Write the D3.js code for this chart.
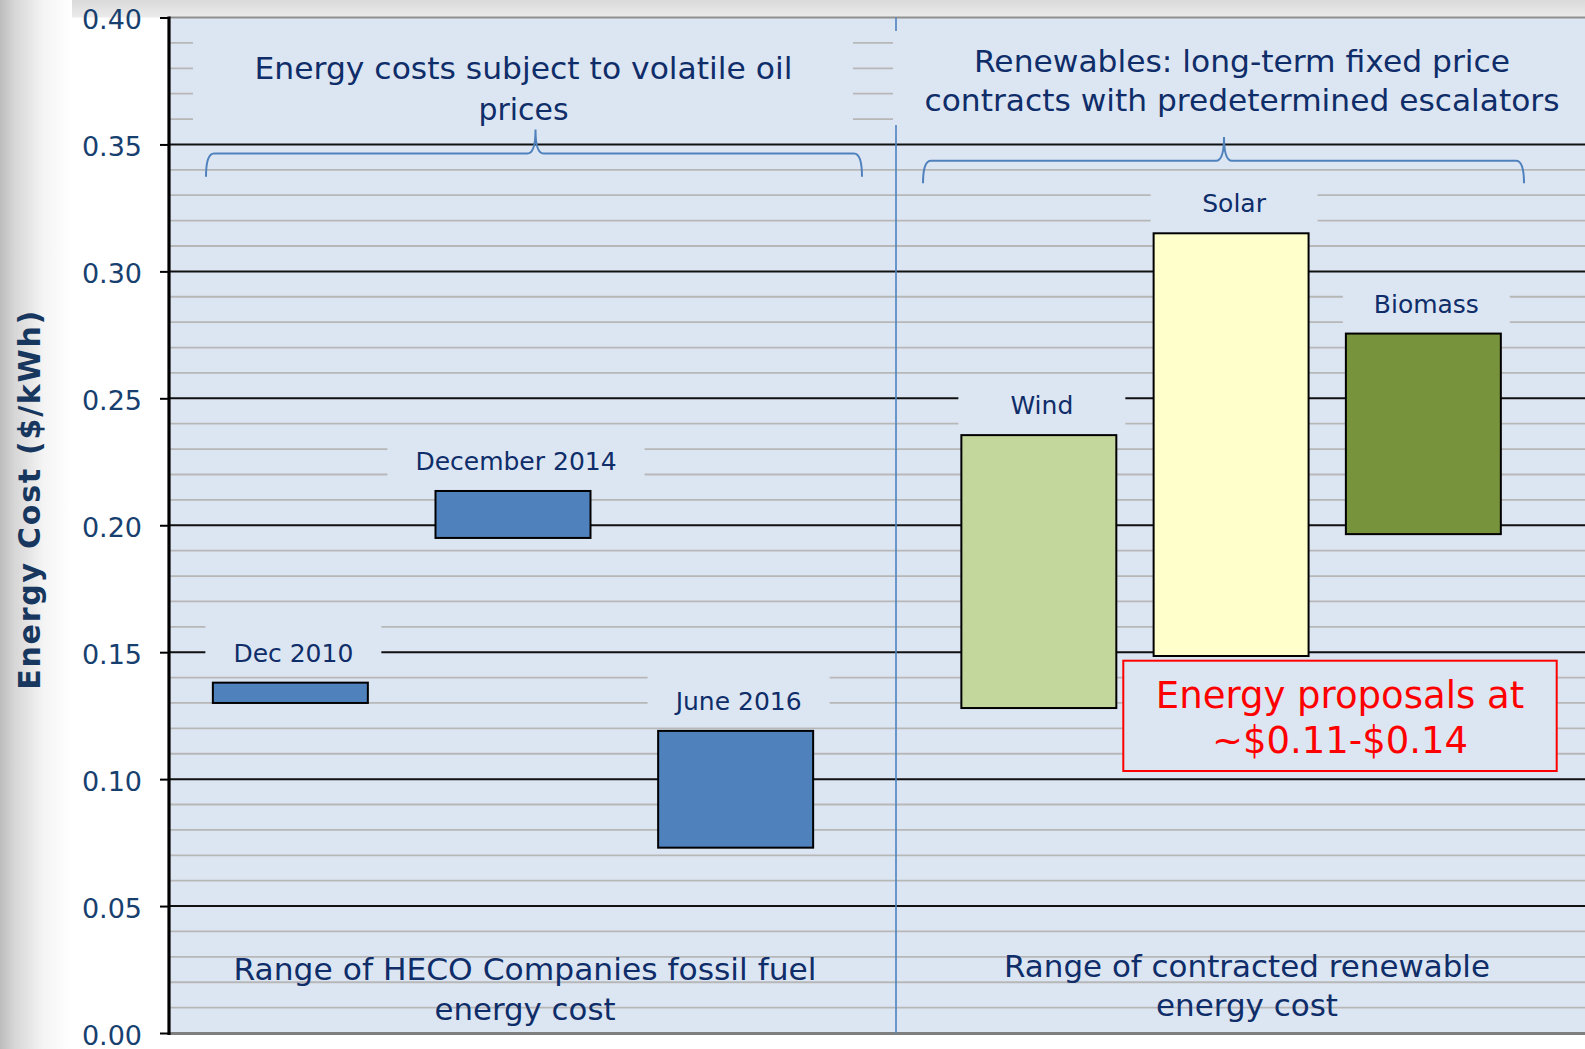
<!DOCTYPE html>
<html><head><meta charset="utf-8">
<script src="https://cdn.jsdelivr.net/npm/d3@7"></script>
<style>
body{margin:0;background:#fff}
svg{display:block}
text{font-family:"DejaVu Sans",Verdana,sans-serif}
</style>
</head><body>
<svg id="c" width="1585" height="1049"></svg>
<script>
// ---------------- data ----------------
const fossilCategories = ["Dec 2010", "December 2014", "June 2016"];
const fossilLow  = [0.130, 0.195, 0.073];
const fossilHigh = [0.138, 0.2135, 0.119];

const renewableCategories = ["Wind", "Solar", "Biomass"];
const renewableLow  = [0.128, 0.1485, 0.1965];
const renewableHigh = [0.2355, 0.315, 0.2755];

const yTicks = [0.00, 0.05, 0.10, 0.15, 0.20, 0.25, 0.30, 0.35, 0.40];
const yTickLabels = ["0.00", "0.05", "0.10", "0.15", "0.20", "0.25", "0.30", "0.35", "0.40"];
const yMinorStep = 0.01;

const yAxisTitle = "Energy Cost ($/kWh)";
const leftTitle = ["Energy costs subject to volatile oil", "prices"];
const rightTitle = ["Renewables: long-term fixed price", "contracts with predetermined escalators"];
const leftFooter = ["Range of HECO Companies fossil fuel", "energy cost"];
const rightFooter = ["Range of contracted renewable", "energy cost"];
const calloutLines = ["Energy proposals at", "~$0.11-$0.14"];

// ---------------- styles / layout ----------------
const fossilColor = "#4f81bd";
const renewableColors = ["#c3d69b", "#ffffcc", "#77933c"];
const plotBg = "#dce6f2";
const navy = "#0f2d69";
const tickColor = "#17406f";

const W = 1585, H = 1049;
const plotLeft = 169, plotRight = 1585, plotTop = 17.5, plotBottom = 1033;
const dividerX = 896;

const svg = d3.select("#c");
const defs = svg.append("defs");

// page background
const lg = defs.append("linearGradient").attr("id", "leftShade").attr("x1", 0).attr("x2", 1).attr("y1", 0).attr("y2", 0);
lg.append("stop").attr("offset", 0).attr("stop-color", "#bcbcbc");
lg.append("stop").attr("offset", 0.2).attr("stop-color", "#d6d6d6");
lg.append("stop").attr("offset", 0.6).attr("stop-color", "#f4f4f4");
lg.append("stop").attr("offset", 1).attr("stop-color", "#ffffff");
const tg = defs.append("linearGradient").attr("id", "topShade").attr("x1", 0).attr("x2", 0).attr("y1", 0).attr("y2", 1);
tg.append("stop").attr("offset", 0).attr("stop-color", "#dadada");
tg.append("stop").attr("offset", 1).attr("stop-color", "#ebebeb");

svg.append("rect").attr("width", W).attr("height", H).attr("fill", "#fff");
svg.append("rect").attr("x", 0).attr("y", 0).attr("width", W).attr("height", plotTop).attr("fill", "url(#topShade)");
svg.append("rect").attr("x", 0).attr("y", 0).attr("width", 72).attr("height", H).attr("fill", "url(#leftShade)");

// scales
const y = d3.scaleLinear().domain([0, 0.4]).range([plotBottom, plotTop]);
const xLeft = d3.scaleBand().domain(fossilCategories).range([plotLeft, 857]).paddingInner(0.3038).paddingOuter(0.197);
const xRight = d3.scaleBand().domain(renewableCategories).range([dividerX, 1566.2]).paddingInner(0.194).paddingOuter(0.34);

// plot area
svg.append("rect").attr("x", plotLeft).attr("y", plotTop).attr("width", plotRight - plotLeft).attr("height", plotBottom - plotTop).attr("fill", plotBg);

// minor grid
const minorVals = d3.range(1, 40).map(i => +(i * yMinorStep).toFixed(2)).filter(v => !yTicks.some(t => Math.abs(t - v) < 1e-9));
svg.append("g").selectAll("line").data(minorVals).join("line")
  .attr("x1", plotLeft).attr("x2", plotRight)
  .attr("y1", d => y(d)).attr("y2", d => y(d))
  .attr("stroke", "#b7b7b7").attr("stroke-width", 1.8);

// major grid
svg.append("g").selectAll("line").data(yTicks.filter(t => t > 0 && t < 0.4)).join("line")
  .attr("x1", plotLeft).attr("x2", plotRight)
  .attr("y1", d => y(d)).attr("y2", d => y(d))
  .attr("stroke", "#111").attr("stroke-width", 2);

// top & bottom borders
svg.append("line").attr("x1", plotLeft).attr("x2", plotRight).attr("y1", plotTop).attr("y2", plotTop).attr("stroke", "#8f8f8f").attr("stroke-width", 2);
svg.append("line").attr("x1", plotLeft).attr("x2", plotRight).attr("y1", plotBottom + 0.5).attr("y2", plotBottom + 0.5).attr("stroke", "#7f7f7f").attr("stroke-width", 3);

// divider
svg.append("line").attr("x1", dividerX).attr("x2", dividerX).attr("y1", plotTop).attr("y2", plotBottom)
  .attr("stroke", "#4f81bd").attr("stroke-width", 1.6);

// y axis
const yAxis = d3.axisLeft(y).tickValues(yTicks).tickSize(9).tickFormat((d, i) => yTickLabels[i]);
const ax = svg.append("g").attr("transform", `translate(${plotLeft},0)`).call(yAxis);
ax.select(".domain").remove();
ax.selectAll(".tick line").attr("stroke", "#000").attr("stroke-width", 2);
ax.selectAll(".tick text").attr("x", -27).attr("dy", null).attr("y", 11)
  .attr("font-size", 27).attr("fill", tickColor).attr("text-anchor", "end")
  .style("font-family", '"DejaVu Sans",Verdana,sans-serif');
svg.append("line").attr("x1", plotLeft).attr("x2", plotLeft).attr("y1", plotTop - 1).attr("y2", plotBottom + 2)
  .attr("stroke", "#000").attr("stroke-width", 3.2);

// y axis title
svg.append("text")
  .attr("transform", `translate(39.5,${(y(0.4) + y(0)) / 2 - 25}) rotate(-90)`)
  .attr("text-anchor", "middle").attr("font-size", 30).attr("font-weight", "bold")
  .attr("fill", "#17375e")
  .attr("textLength", 379).attr("lengthAdjust", "spacing")
  .text(yAxisTitle);

// header boxes (hide gridlines behind titles)
svg.append("rect").attr("x", 193).attr("y", 30).attr("width", 853 - 193).attr("height", 97).attr("fill", plotBg);
svg.append("rect").attr("x", 893).attr("y", 31).attr("width", plotRight - 893).attr("height", 94).attr("fill", plotBg);

function multiline(lines, cx, baselines, size, widths, color) {
  lines.forEach((t, i) => {
    const el = svg.append("text").attr("x", cx).attr("y", baselines[i])
      .attr("text-anchor", "middle").attr("font-size", size).attr("fill", color).text(t);
    if (widths) el.attr("textLength", widths[i]).attr("lengthAdjust", "spacingAndGlyphs");
  });
}
multiline(leftTitle, 523.5, [79.3, 119.5], 31, [538, 90], navy);
multiline(rightTitle, 1242, [71.7, 111], 31, [536, 635], navy);
multiline(leftFooter, 525, [980, 1020], 30, [583, 181], navy);
multiline(rightFooter, 1247, [976.7, 1015.7], 30, [486, 182], navy);

// braces
function brace(x0, x1, xm, h, e, c) {
  const r = 8;
  return `M${x0},${e} Q${x0},${h} ${x0 + r},${h} L${xm - r},${h} Q${xm},${h} ${xm},${c} Q${xm},${h} ${xm + r},${h} L${x1 - r},${h} Q${x1},${h} ${x1},${e}`;
}
svg.append("path").attr("d", brace(206, 862, 535.5, y(0.35) + 9, y(0.34) + 7, y(0.35) - 15))
  .attr("fill", "none").attr("stroke", "#4f81bd").attr("stroke-width", 2);
svg.append("path").attr("d", brace(923, 1524, 1224, y(0.35) + 16.3, y(0.34) + 13.5, y(0.35) - 7.5))
  .attr("fill", "none").attr("stroke", "#4f81bd").attr("stroke-width", 2);

// bars
const fossil = fossilCategories.map((c, i) => ({ c, lo: fossilLow[i], hi: fossilHigh[i], color: fossilColor, x: xLeft }));
const renew = renewableCategories.map((c, i) => ({ c, lo: renewableLow[i], hi: renewableHigh[i], color: renewableColors[i], x: xRight }));
const all = fossil.concat(renew);

svg.append("g").selectAll("rect").data(all).join("rect")
  .attr("x", d => d.x(d.c)).attr("width", d => d.x.bandwidth())
  .attr("y", d => y(d.hi)).attr("height", d => y(d.lo) - y(d.hi))
  .attr("fill", d => d.color).attr("stroke", "#000").attr("stroke-width", 2);

// labels with background boxes
const lab = svg.append("g").selectAll("g").data(all).join("g");
lab.append("rect").attr("fill", plotBg);
lab.append("text")
  .attr("x", d => d.x(d.c) + d.x.bandwidth() / 2 + 3)
  .attr("y", d => y(d.hi) - 21)
  .attr("text-anchor", "middle").attr("font-size", 25).attr("fill", navy)
  .text(d => d.c);
lab.each(function (d) {
  const g = d3.select(this);
  const tw = g.select("text").node().getComputedTextLength();
  const cx = d.x(d.c) + d.x.bandwidth() / 2 + 3;
  const bw = Math.max(d.x.bandwidth() + 12, tw + 56);
  const base = y(d.hi) - 21;
  g.select("rect").attr("x", cx - bw / 2).attr("width", bw).attr("y", base - 38).attr("height", 50);
});

// callout
svg.append("rect").attr("x", 1123.3).attr("y", 660.7).attr("width", 433.4).attr("height", 110.3)
  .attr("fill", plotBg).attr("stroke", "#ff0000").attr("stroke-width", 2);
multiline(calloutLines, 1340, [708.3, 753.3], 37, null, "#ff0000");
</script>
</body></html>
